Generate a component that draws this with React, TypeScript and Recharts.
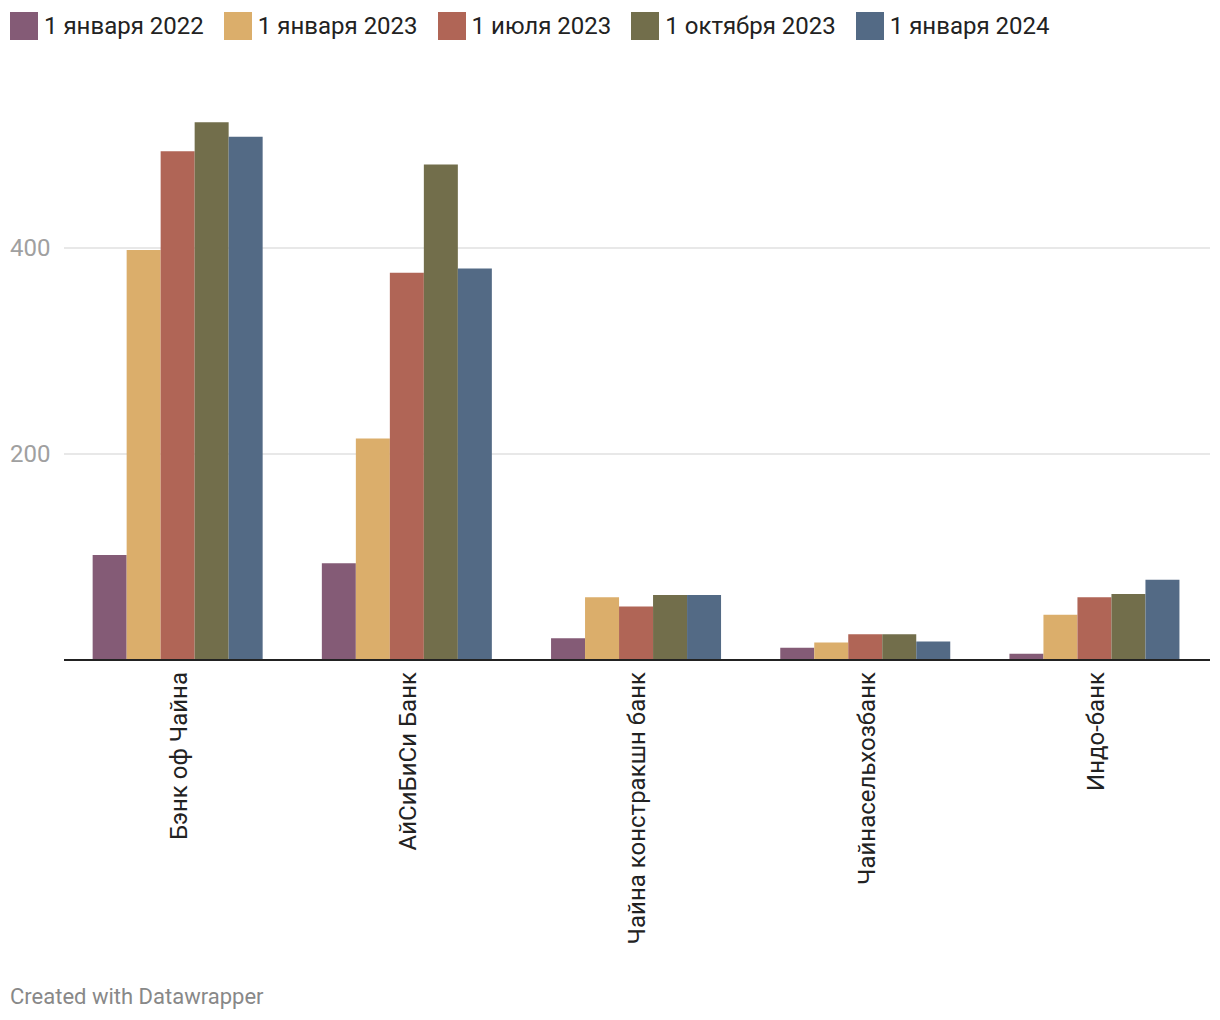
import { BarChart, Bar, XAxis, YAxis, CartesianGrid } from 'recharts';

const banks = ['Бэнк оф Чайна', 'АйСиБиСи Банк', 'Чайна констракшн банк', 'Чайнасельхозбанк', 'Индо-банк'];

const jan2022 = [102, 94, 21, 12, 6];
const jan2023 = [398, 215, 61, 17, 44];
const jul2023 = [494, 376, 52, 25, 61];
const oct2023 = [522, 481, 63, 25, 64];
const jan2024 = [508, 380, 63, 18, 78];

const seriesNames = ['1 января 2022', '1 января 2023', '1 июля 2023', '1 октября 2023', '1 января 2024'];
const seriesColors = ['#845b76', '#dbae6b', '#b06556', '#726e4b', '#536a85'];
const yTicks = [0, 200, 400];
const gridValues = [200, 400];

const data = banks.map((name, i) => ({
  name,
  s0: jan2022[i],
  s1: jan2023[i],
  s2: jul2023[i],
  s3: oct2023[i],
  s4: jan2024[i],
}));

const FONT = 'Roboto, "Noto Sans", sans-serif';

const YTick = (props: any) => {
  const { y, payload } = props;
  if (payload.value === 0) return null;
  return (
    <text x={10} y={y} dy="0.35em" fill="#a0a0a0" fontSize={24} fontFamily={FONT} textAnchor="start">
      {payload.value}
    </text>
  );
};

const XTick = (props: any) => {
  const { x, payload } = props;
  const y = 672;
  return (
    <text
      x={x}
      y={y}
      dy="0.35em"
      fill="#222"
      fontSize={24}
      fontFamily={FONT}
      textAnchor="end"
      transform={`rotate(-90, ${x}, ${y})`}
    >
      {payload.value}
    </text>
  );
};

export default function App() {
  return (
    <div style={{ position: 'absolute', left: 0, top: 0, width: 1220, height: 1020, background: '#fff', fontFamily: FONT }}>
      {/* legend */}
      <div style={{ position: 'absolute', left: 10, top: 12, display: 'flex', alignItems: 'center', height: 28 }}>
        {seriesNames.map((n, i) => (
          <div key={n} style={{ display: 'flex', alignItems: 'center', marginRight: 20 }}>
            <div style={{ width: 28, height: 28, background: seriesColors[i], marginRight: 6 }} />
            <span style={{ fontSize: 24, color: '#222', whiteSpace: 'nowrap' }}>{n}</span>
          </div>
        ))}
      </div>

      <BarChart
        width={1220}
        height={1020}
        data={data}
        margin={{ top: 42, right: 10, left: 0, bottom: 0 }}
        barCategoryGap="12.5%"
        barGap={0}
      >
        <CartesianGrid vertical={false} horizontalValues={gridValues} stroke="#e0e0e0" strokeWidth={1.5} />
        <YAxis
          width={64}
          domain={[0, 600]}
          ticks={yTicks}
          axisLine={false}
          tickLine={false}
          tick={<YTick />}
        />
        <XAxis
          dataKey="name"
          height={360}
          interval={0}
          tickLine={false}
          axisLine={{ stroke: '#222', strokeWidth: 2 }}
          tick={<XTick />}
        />
        {['s0', 's1', 's2', 's3', 's4'].map((k, i) => (
          <Bar key={k} dataKey={k} name={seriesNames[i]} fill={seriesColors[i]} isAnimationActive={false} />
        ))}
      </BarChart>

      <div style={{ position: 'absolute', left: 10, top: 984, fontSize: 22, color: '#888' }}>
        Created with Datawrapper
      </div>
    </div>
  );
}
